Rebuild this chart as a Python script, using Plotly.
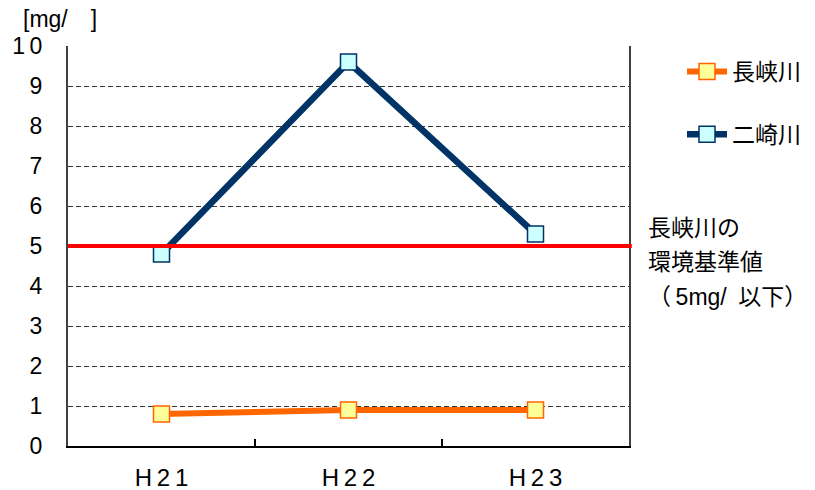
import plotly.graph_objects as go

# Annual values [mg/ℓ]
years = ["H21", "H22", "H23"]
year_labels = ["H\u20092\u20091", "H\u20092\u20092", "H\u20092\u20093"]
nagaokawa = [0.8, 0.9, 0.9]
futasakigawa = [4.8, 9.6, 5.3]
standard = 5
y_ticks = list(range(0, 11))
y_ticktext = [str(v) if v < 10 else "1\u20090" for v in y_ticks]

FONT = "Liberation Sans, Arial, Noto Sans CJK JP, sans-serif"
INK = "#000000"

fig = go.Figure()

fig.add_trace(go.Scatter(
    x=years, y=nagaokawa, name="長峡川", mode="lines+markers",
    line=dict(color="#FF6600", width=6),
    marker=dict(symbol="square", size=16, color="#FFFF99",
                line=dict(color="#FF6600", width=1.5)),
    legendgroup="a",
))
fig.add_trace(go.Scatter(
    x=years, y=futasakigawa, name="二崎川", mode="lines+markers",
    line=dict(color="#003366", width=6.5),
    marker=dict(symbol="square", size=16, color="#CCFFFF",
                line=dict(color="#003366", width=1.5)),
    legendgroup="b",
))

# Environmental standard line
fig.add_shape(type="line", xref="paper", yref="y", x0=0, x1=1.005,
              y0=standard, y1=standard, layer="above",
              line=dict(color="#FF0000", width=4))

W, H = 815, 490
L, R, T, B = 68, 186, 46, 44
pw, ph = W - L - R, H - T - B


def px(x):
    return (x - L) / pw


def py(y):
    return (H - B - y) / ph


fig.add_annotation(text="[mg/\u3000]", xref="paper", yref="paper",
                   x=px(21), y=py(19), xanchor="left", yanchor="middle",
                   showarrow=False, font=dict(size=23, color=INK, family=FONT))

for txt, yy in [("長峡川の", 228), ("環境基準値", 262), ("（\u20095mg/\u2002以下）", 297)]:
    fig.add_annotation(text=txt, xref="paper", yref="paper",
                       x=px(646), y=py(yy), xanchor="left", yanchor="middle",
                       showarrow=False, font=dict(size=23, color=INK, family=FONT))

fig.update_layout(
    width=W, height=H,
    margin=dict(l=L, r=R, t=T, b=B, autoexpand=False),
    paper_bgcolor="white", plot_bgcolor="white",
    font=dict(family=FONT, size=21, color=INK),
    showlegend=True,
    legend=dict(x=px(682), y=py(50), xanchor="left", yanchor="top",
                tracegroupgap=30, font=dict(size=23, family=FONT, color=INK),
                itemwidth=40, bgcolor="rgba(0,0,0,0)"),
    xaxis=dict(
        type="category", range=[-0.5, 2.5], automargin=False,
        tickmode="array", tickvals=years, ticktext=year_labels,
        tickfont=dict(size=24, family=FONT, color=INK),
        tickson="boundaries", ticks="inside", ticklen=7, tickwidth=2,
        tickcolor="#000000",
        showline=True, linecolor="#000000", linewidth=2,
        showgrid=False, zeroline=False, ticklabelstandoff=9,
    ),
    yaxis=dict(
        range=[0, 10], automargin=False,
        tickmode="array", tickvals=y_ticks, ticktext=y_ticktext,
        tickfont=dict(size=23, family=FONT, color=INK),
        showline=True, linecolor="#404040", linewidth=2, mirror=True,
        showgrid=True, gridcolor="#333333", gridwidth=1, griddash="5px,3px",
        zeroline=False, ticks="", ticklabelstandoff=19,
    ),
)

fig.write_html("out.html")
